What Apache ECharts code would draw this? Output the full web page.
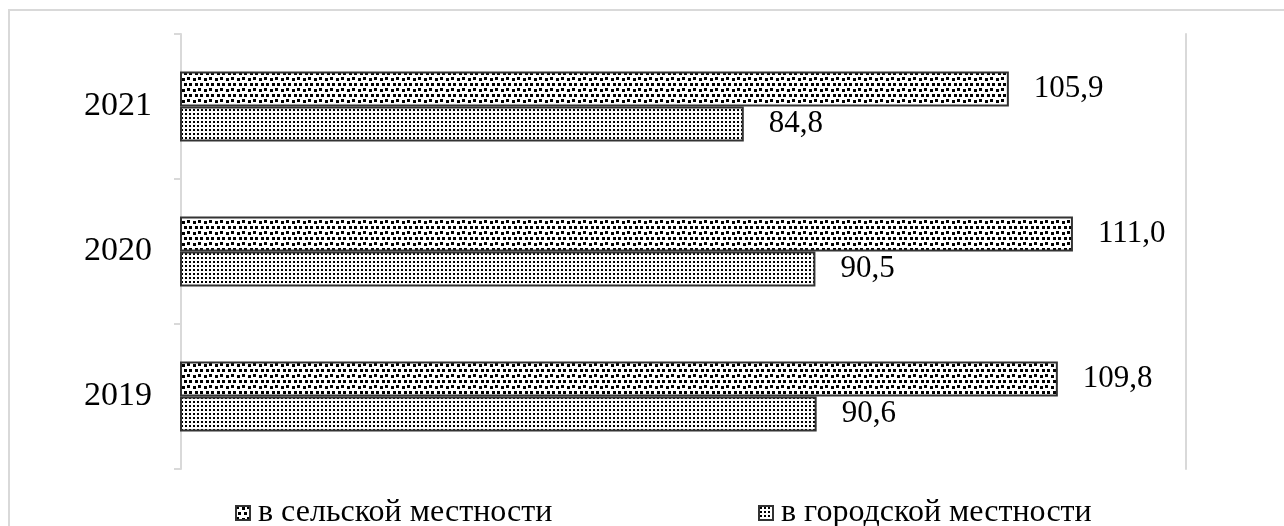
<!DOCTYPE html>
<html>
<head>
<meta charset="utf-8">
<script src="https://cdn.jsdelivr.net/npm/echarts@6/dist/echarts.min.js"></script>
<style>
html,body{margin:0;padding:0;background:#fff;}
#chart{width:1284px;height:526px;}
</style>
</head>
<body>
<div id="chart"></div>
<script>
const categories = ['2019', '2020', '2021'];
const ruralValues = [109.8, 111.0, 105.9];
const urbanValues = [90.6, 90.5, 84.8];
const seriesNames = ['в сельской местности', 'в городской местности'];

function makePattern(size, squares, sq) {
  const c = document.createElement('canvas');
  c.width = size; c.height = size;
  const ctx = c.getContext('2d');
  ctx.fillStyle = '#ffffff';
  ctx.fillRect(0, 0, size, size);
  ctx.fillStyle = '#000000';
  squares.forEach(p => ctx.fillRect(p[0], p[1], sq, sq));
  return c;
}
const ruralPattern = makePattern(11, [[0,0],[6,1],[2,6],[8,6]], 3);
const urbanPattern = makePattern(4, [[1,1]], 2);

const serif = 'Liberation Serif';
const fmt = p => p.value.toFixed(1).replace('.', ',');

const chart = echarts.init(document.getElementById('chart'));
chart.setOption({
  backgroundColor: '#ffffff',
  animation: false,
  textStyle: { fontFamily: serif },
  graphic: [
    { type: 'rect', shape: { x: 9, y: 10, width: 1400, height: 700 }, style: { fill: 'none', stroke: '#d9d9d9', lineWidth: 2 }, silent: true, z: -10 },
    { type: 'text', left: 637, top: -24, style: { text: '31', font: '31px "Liberation Serif"', fill: '#000' } }
  ],
  legend: [
    { data: [seriesNames[0]], left: 230, top: 492, icon: 'rect', itemWidth: 14, itemHeight: 14,
      textStyle: { fontFamily: serif, fontSize: 32, color: '#000', padding: [0, 0, 0, 3] } },
    { data: [seriesNames[1]], left: 753, top: 492, icon: 'rect', itemWidth: 14, itemHeight: 14,
      textStyle: { fontFamily: serif, fontSize: 32, color: '#000', padding: [0, 0, 0, 3] } }
  ],
  grid: { left: 181, right: 98, top: 34, bottom: 57, containLabel: false },
  xAxis: {
    type: 'value', min: 40, max: 120,
    axisLine: { show: false }, axisTick: { show: false }, axisLabel: { show: false },
    splitLine: { show: false }
  },
  yAxis: [
    {
      type: 'category', data: categories, position: 'left',
      axisLine: { show: true, lineStyle: { color: '#d9d9d9', width: 2 } },
      axisTick: { show: true, length: 7, lineStyle: { color: '#d9d9d9', width: 2 } },
      axisLabel: { fontFamily: serif, fontSize: 34, color: '#000', margin: 29 }
    },
    {
      type: 'category', data: categories, position: 'right',
      axisLine: { show: true, lineStyle: { color: '#d9d9d9', width: 2 } },
      axisTick: { show: false }, axisLabel: { show: false }
    }
  ],
  series: [
    {
      name: seriesNames[0], type: 'bar', data: ruralValues, barWidth: 35, barGap: '0%',
      itemStyle: { color: { image: ruralPattern, repeat: 'repeat' }, borderColor: '#333', borderWidth: 2 },
      label: { show: true, position: 'right', distance: 25, formatter: fmt, fontFamily: serif, fontSize: 31, color: '#000' }
    },
    {
      name: seriesNames[1], type: 'bar', data: urbanValues, barWidth: 35, barGap: '0%',
      itemStyle: { color: { image: urbanPattern, repeat: 'repeat' }, borderColor: '#333', borderWidth: 2 },
      label: { show: true, position: 'right', distance: 25, formatter: fmt, fontFamily: serif, fontSize: 31, color: '#000' }
    }
  ]
});
</script>
</body>
</html>
